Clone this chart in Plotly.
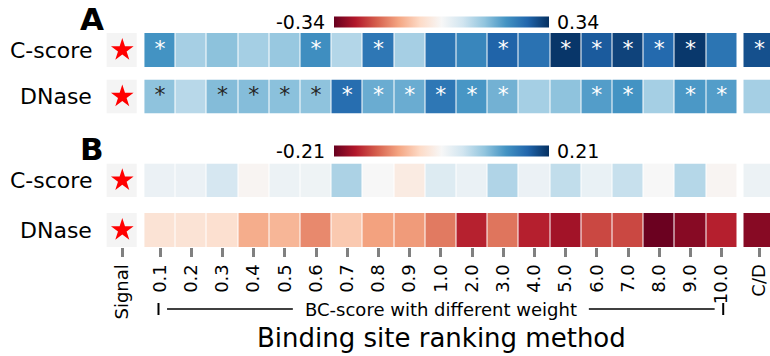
import plotly.graph_objects as go

FONT = "DejaVu Sans"
W, H = 770, 356

# ---- data -------------------------------------------------------------
weights = ["0.1", "0.2", "0.3", "0.4", "0.5", "0.6", "0.7", "0.8", "0.9", "1.0",
           "2.0", "3.0", "4.0", "5.0", "6.0", "7.0", "8.0", "9.0", "10.0"]
extra_method = "C/D"
row_names = ["C-score", "DNase"]

# panel A (19 weights followed by C/D)
a_cscore = [0.204, 0.114, 0.140, 0.115, 0.130, 0.212, 0.100, 0.246, 0.114, 0.250,
            0.224, 0.275, 0.254, 0.333, 0.286, 0.316, 0.266, 0.330, 0.250, 0.300]
a_dnase = [0.139, 0.095, 0.148, 0.147, 0.142, 0.139, 0.260, 0.170, 0.170, 0.246,
           0.200, 0.163, 0.115, 0.139, 0.190, 0.204, 0.115, 0.197, 0.190, 0.115]
a_cscore_sig = [1, 0, 0, 0, 0, 1, 0, 1, 0, 0, 0, 1, 0, 1, 1, 1, 1, 1, 0, 1]
a_dnase_sig = [1, 0, 1, 1, 1, 1, 1, 1, 1, 1, 1, 1, 0, 0, 1, 1, 0, 1, 1, 0]
a_limit = 0.34

# panel B
b_cscore = [0.013, 0.013, 0.037, -0.004, 0.012, 0.010, 0.067, 0.0, -0.018, 0.029,
            0.014, 0.064, 0.013, 0.053, 0.015, 0.049, 0.0, 0.061, -0.004, 0.012]
b_dnase = [-0.030, -0.030, -0.034, -0.078, -0.071, -0.101, -0.056, -0.086, -0.090, -0.110,
           -0.163, -0.113, -0.164, -0.177, -0.140, -0.140, -0.208, -0.192, -0.164, -0.192]
b_cscore_sig = [0] * 20
b_dnase_sig = [0] * 20
b_limit = 0.21

# ---- colours ----------------------------------------------------------
rdbu = ["#67001f", "#b2182b", "#d6604d", "#f4a582", "#fddbc7", "#f7f7f7",
        "#d1e5f0", "#92c5de", "#4393c3", "#2166ac", "#053061"]
colorscale = [[i / (len(rdbu) - 1), c] for i, c in enumerate(rdbu)]


def hex_rgb(h):
    h = h.lstrip("#")
    return [int(h[i:i + 2], 16) for i in (0, 2, 4)]


def cmap(v, lim):
    t = min(max((v + lim) / (2 * lim), 0.0), 1.0) * (len(rdbu) - 1)
    i = min(int(t), len(rdbu) - 2)
    f = t - i
    a, b = hex_rgb(rdbu[i]), hex_rgb(rdbu[i + 1])
    return [a[k] + (b[k] - a[k]) * f for k in range(3)]


def luminance(rgb):
    out = []
    for c in rgb:
        c = c / 255
        out.append(c / 12.92 if c <= 0.03928 else ((c + 0.055) / 1.055) ** 2.4)
    return 0.2126 * out[0] + 0.7152 * out[1] + 0.0722 * out[2]


# ---- geometry -----------------------------------------------------------
COL_PX = 31.2          # width of one column in pixels
SIGNAL_PX = 122.3      # pixel centre of the signal column
GAP = 1.21             # spacing between column groups, in column units

sig_x = 0.0
bc_x = [GAP + i for i in range(len(weights))]
cd_x = bc_x[-1] + GAP
# brick edges: 19 weight columns, an empty spacer, then C/D
edges = [x - 0.5 for x in bc_x] + [bc_x[-1] + 0.5, cd_x - 0.5, cd_x + 0.5]


def py(px):
    return 1 - px / H


def pxx(px):
    return px / W


row_spans = [(33, 67), (79.5, 113.5), (163.5, 197), (213, 247)]
panels = [
    (a_cscore, a_cscore_sig, "coloraxis", a_limit),
    (a_dnase, a_dnase_sig, "coloraxis", a_limit),
    (b_cscore, b_cscore_sig, "coloraxis2", b_limit),
    (b_dnase, b_dnase_sig, "coloraxis2", b_limit),
]

fig = go.Figure()
for r, (vals, sig, cax, lim) in enumerate(panels):
    yref = "y" if r == 0 else f"y{r + 1}"
    z = [vals[:19] + [None] + [vals[19]]]
    fig.add_trace(go.Heatmap(
        z=z, x=edges, y=[0], coloraxis=cax, xgap=1, ygap=0,
        hoverongaps=False, xaxis="x", yaxis=yref,
    ))
    # signal reference box
    fig.add_trace(go.Heatmap(
        z=[[1]], x=[sig_x], y=[0], xgap=1,
        colorscale=[[0, "#f4f4f4"], [1, "#f4f4f4"]], showscale=False,
        xaxis="x", yaxis=yref, hoverinfo="skip",
    ))
    fig.add_trace(go.Scatter(
        x=[sig_x], y=[0], mode="markers", xaxis="x", yaxis=yref,
        marker=dict(symbol="star", size=17, color="#ff0000", line=dict(width=0)),
        hoverinfo="skip",
    ))
    # significance asterisks
    all_x = bc_x + [cd_x]
    sx = [all_x[i] for i in range(20) if sig[i]]
    sc = []
    for i in range(20):
        if sig[i]:
            sc.append("#262626" if luminance(cmap(vals[i], lim)) > 0.408 else "#ffffff")
    if sx:
        fig.add_trace(go.Scatter(
            x=sx, y=[0] * len(sx), mode="text", text=["*"] * len(sx),
            textposition="middle center", xaxis="x", yaxis=yref,
            textfont=dict(family=FONT, size=22, color=sc), hoverinfo="skip",
        ))

x_lo = -SIGNAL_PX / COL_PX
x_hi = x_lo + W / COL_PX

layout = dict(
    width=W, height=H,
    margin=dict(l=0, r=0, t=0, b=0),
    paper_bgcolor="white", plot_bgcolor="white",
    showlegend=False,
    font=dict(family=FONT, color="black"),
    xaxis=dict(
        domain=[0, 1], range=[x_lo, x_hi], anchor="y4",
        tickvals=[sig_x] + bc_x + [cd_x],
        ticktext=["Signal"] + weights + [extra_method],
        tickangle=-90, tickfont=dict(family=FONT, size=18, color="black"),
        ticks="outside", ticklen=9, tickwidth=2.5, tickcolor="#808080",
        showgrid=False, zeroline=False, showline=False, automargin=False,
    ),
)
for r, (top, bot) in enumerate(row_spans):
    key = "yaxis" if r == 0 else f"yaxis{r + 1}"
    layout[key] = dict(
        domain=[py(bot), py(top)], range=[-0.5, 0.5], anchor="x",
        showticklabels=False, showgrid=False, zeroline=False, ticks="",
        automargin=False, fixedrange=True,
    )

bar_kw = dict(
    orientation="h", thicknessmode="pixels", thickness=11,
    lenmode="pixels", len=215, xanchor="center", yanchor="middle",
    xpad=0, ypad=0, outlinewidth=0, showticklabels=False, ticks="",
)
layout["coloraxis"] = dict(
    colorscale=colorscale, cmin=-a_limit, cmax=a_limit,
    colorbar=dict(x=pxx(441.6), y=py(22.3), **bar_kw),
)
layout["coloraxis2"] = dict(
    colorscale=colorscale, cmin=-b_limit, cmax=b_limit,
    colorbar=dict(x=pxx(441.6), y=py(150.8), **bar_kw),
)
fig.update_layout(**layout)

ann = []
# row labels
for r, (top, bot) in enumerate(row_spans):
    ann.append(dict(text=row_names[r % 2], x=pxx(94), y=py((top + bot) / 2),
                    xanchor="right", yanchor="middle", font=dict(size=22)))
# panel letters
for letter, yc in (("A", 19), ("B", 149)):
    ann.append(dict(text=f"<b>{letter}</b>", x=pxx(78), y=py(yc),
                    xanchor="left", yanchor="middle", font=dict(size=31)))
# colour bar limits
for lim, yc in ((a_limit, 22.3), (b_limit, 150.8)):
    ann.append(dict(text=f"-{lim:.2f}", x=pxx(327), y=py(yc),
                    xanchor="right", yanchor="middle", font=dict(size=19)))
    ann.append(dict(text=f"{lim:.2f}", x=pxx(555), y=py(yc),
                    xanchor="left", yanchor="middle", font=dict(size=19)))

# bracket over the weighted BC-score columns
mid = (bc_x[0] + bc_x[-1]) / 2
half_text = 141 / COL_PX
pad = 7 / COL_PX
y_br = py(309)
ann.append(dict(text="BC-score with different weight", x=mid, xref="x",
                y=y_br, yref="paper", xanchor="center", yanchor="middle",
                font=dict(size=18)))
ann.append(dict(text="Binding site ranking method", x=pxx(441.5), y=py(338),
                xanchor="center", yanchor="middle", font=dict(size=26)))
for a in ann:
    a.setdefault("xref", "paper")
    a.setdefault("yref", "paper")
    a["showarrow"] = False
fig.update_layout(annotations=ann)

line = dict(color="black", width=1.6)
shapes = [
    dict(type="line", xref="x", yref="paper", x0=bc_x[0] + pad, x1=mid - half_text - pad,
         y0=y_br, y1=y_br, line=line),
    dict(type="line", xref="x", yref="paper", x0=mid + half_text + pad, x1=bc_x[-1] - pad,
         y0=y_br, y1=y_br, line=line),
    dict(type="line", xref="x", yref="paper", x0=bc_x[0] - 0.05, x1=bc_x[0] - 0.05,
         y0=py(303), y1=py(315), line=dict(color="black", width=2)),
    dict(type="line", xref="x", yref="paper", x0=bc_x[-1] + 0.05, x1=bc_x[-1] + 0.05,
         y0=py(303), y1=py(315), line=dict(color="black", width=2)),
]
fig.update_layout(shapes=shapes)

fig.write_html("out.html")
